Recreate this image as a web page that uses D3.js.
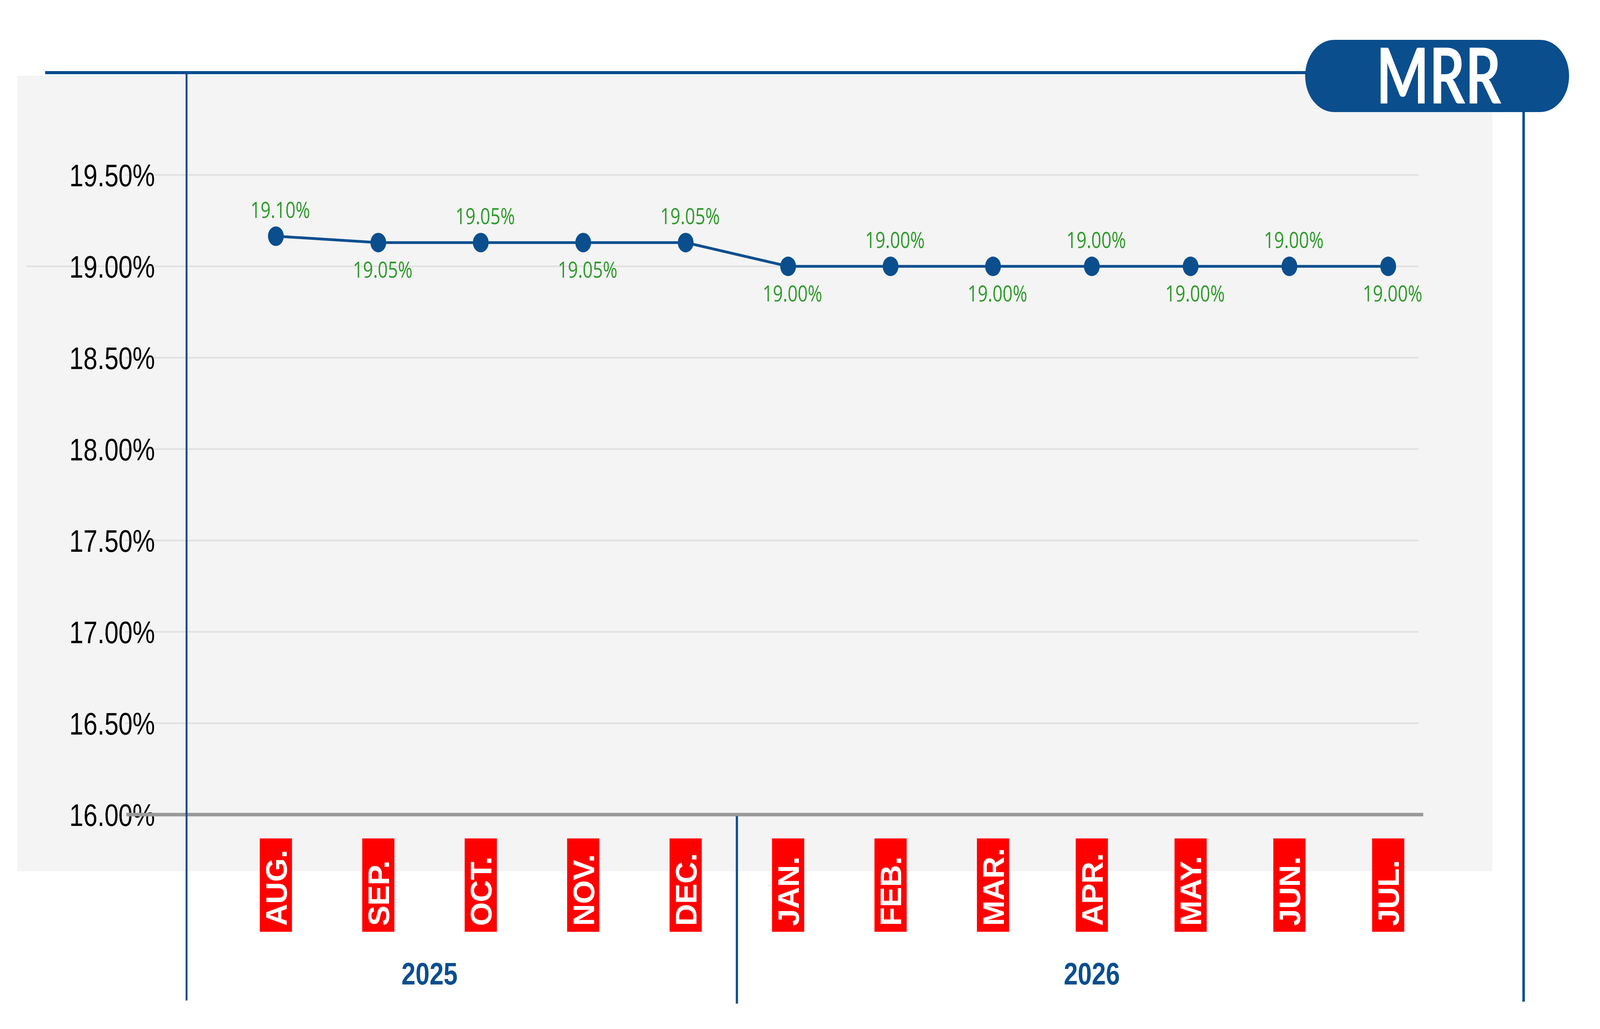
<!DOCTYPE html>
<html>
<head>
<meta charset="utf-8">
<script src="https://cdn.jsdelivr.net/npm/d3@7"></script>
<style>
  html, body { margin: 0; padding: 0; background: #fff; overflow: hidden; }
  #chart { width: 100vw; height: 100vh; }
  svg { display: block; width: 100%; height: 100%; }
</style>
</head>
<body>
<div id="chart"></div>
<script>
// data
const months = ["AUG.", "SEP.", "OCT.", "NOV.", "DEC.", "JAN.", "FEB.", "MAR.", "APR.", "MAY.", "JUN.", "JUL."]
const rates = [19.165, 19.13, 19.13, 19.13, 19.13, 19.0, 19.0, 19.0, 19.0, 19.0, 19.0, 19.0]
const rateLabels = ["19.10%", "19.05%", "19.05%", "19.05%", "19.05%", "19.00%", "19.00%", "19.00%", "19.00%", "19.00%", "19.00%", "19.00%"]
const yTicks = [16.0, 16.5, 17.0, 17.5, 18.0, 18.5, 19.0, 19.5]
const years = ["2025", "2026"]
const title = "MRR"

const width = 5069
const height = 2635
const blue = "#0a4e8e"
const green = "#2e9a2a"

// drawn in 5069x2635 units, fitted to whatever the window is
const svg = d3.select("#chart")
  .append("svg")
  .attr("viewBox", `0 0 ${width} ${height}`)
  .attr("preserveAspectRatio", "none")

// month positions are slightly tighter after MAR in the original
const x = d3.scaleLinear()
  .domain([0, 7, months.length - 1])
  .range([874, 3146, 4398])

const y = d3.scaleLinear()
  .domain([16, 19.5])
  .range([2086, 448])

// grey plot background
svg.append("rect")
  .attr("x", 55)
  .attr("y", 194)
  .attr("width", 4728 - 55)
  .attr("height", 2231 - 194)
  .attr("fill", "#f4f4f4")

// gridlines
svg.append("g")
  .selectAll("line")
  .data(yTicks.filter(d => d > 16))
  .enter()
    .append("line")
    .attr("x1", d => d === 19 ? 84 : 396)
    .attr("x2", 4494)
    .attr("y1", d => y(d))
    .attr("y2", d => y(d))
    .attr("stroke", "#e0e0e0")
    .attr("stroke-width", 4)

// y axis labels
const yAxis = svg.append("g")
  .attr("transform", "translate(491,0)")
  .call(d3.axisLeft(y)
    .tickValues(yTicks)
    .tickSize(0)
    .tickPadding(0)
    .tickFormat(d => d3.format(".2f")(d) + "%"))
yAxis.select(".domain").remove()
yAxis.selectAll("text")
  .attr("font-family", "'Liberation Sans', Arial, Helvetica, sans-serif")
  .attr("font-size", 80)
  .attr("fill", "#000")
  .attr("dy", "0.36em")

// base line at 16%
svg.append("line")
  .attr("x1", 400)
  .attr("x2", 4509)
  .attr("y1", y(16))
  .attr("y2", y(16))
  .attr("stroke", "#999")
  .attr("stroke-width", 9)

// frame lines
const frame = svg.append("g").attr("stroke", blue).attr("fill", "none")
frame.append("line").attr("x1", 143).attr("x2", 4140).attr("y1", 186).attr("y2", 186).attr("stroke-width", 8)
frame.append("line").attr("x1", 591).attr("x2", 591).attr("y1", 186).attr("y2", 2562).attr("stroke-width", 6)
frame.append("line").attr("x1", x(4.5)).attr("x2", x(4.5)).attr("y1", 2090).attr("y2", 2570).attr("stroke-width", 7)
frame.append("line").attr("x1", 4827).attr("x2", 4827).attr("y1", 280).attr("y2", 2565).attr("stroke-width", 8)

// title pill
svg.append("rect")
  .attr("x", 4135)
  .attr("y", 102)
  .attr("width", 4971 - 4135)
  .attr("height", 185)
  .attr("rx", 92)
  .attr("fill", blue)
svg.append("text")
  .attr("x", 4558)
  .attr("y", 265)
  .attr("text-anchor", "middle")
  .attr("font-family", "Lato, 'Open Sans', sans-serif")
  .attr("font-weight", 700)
  .attr("font-size", 198)
  .attr("textLength", 396)
  .attr("lengthAdjust", "spacingAndGlyphs")
  .attr("fill", "#fff")
  .text(title)

// series line
svg.append("path")
  .datum(rates)
  .attr("d", d3.line().x((d, i) => x(i)).y(d => y(d)))
  .attr("fill", "none")
  .attr("stroke", blue)
  .attr("stroke-width", 7)

svg.append("g")
  .selectAll("circle")
  .data(rates)
  .enter()
    .append("circle")
    .attr("cx", (d, i) => x(i))
    .attr("cy", d => y(d))
    .attr("r", 25)
    .attr("fill", blue)

// data labels, alternating above / below
svg.append("g")
  .selectAll("text")
  .data(rates)
  .enter()
    .append("text")
    .attr("x", (d, i) => x(i) + 14)
    .attr("y", (d, i) => i % 2 === 0 ? y(d) - 47 : y(d) + 90)
    .attr("text-anchor", "middle")
    .attr("font-family", "'Open Sans', 'Noto Sans', sans-serif")
    .attr("font-size", 56)
    .attr("fill", green)
    .text((d, i) => rateLabels[i])

// month tags
const tags = svg.append("g")
  .selectAll("g")
  .data(months)
  .enter()
    .append("g")
tags.append("rect")
  .attr("x", (d, i) => x(i) - 51)
  .attr("y", 2147)
  .attr("width", 102)
  .attr("height", 239)
  .attr("fill", "#ff0000")
tags.append("text")
  .attr("transform", (d, i) => `translate(${x(i) + 34},2371) rotate(-90) scale(0.83,1)`)
  .attr("font-family", "'Liberation Sans', Arial, Helvetica, sans-serif")
  .attr("font-weight", 700)
  .attr("font-size", 94)
  .attr("fill", "#fff")
  .text(d => d)

// year labels
const yearAt = [1.5, 8]
svg.append("g")
  .selectAll("text")
  .data(years)
  .enter()
    .append("text")
    .attr("x", (d, i) => x(yearAt[i]))
    .attr("y", 2521)
    .attr("text-anchor", "middle")
    .attr("font-family", "'Liberation Sans', Arial, Helvetica, sans-serif")
    .attr("font-weight", 700)
    .attr("font-size", 80)
    .attr("fill", blue)
    .text(d => d)
</script>
</body>
</html>
